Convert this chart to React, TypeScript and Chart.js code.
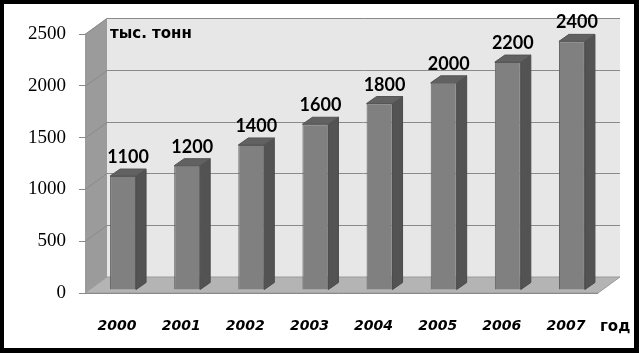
import React, { useEffect, useRef } from 'react';
import { Chart, registerables } from 'chart.js';

Chart.register(...registerables);

const years = ['2000', '2001', '2002', '2003', '2004', '2005', '2006', '2007'];
const values = [1100, 1200, 1400, 1600, 1800, 2000, 2200, 2400];
const yTicks = [0, 500, 1000, 1500, 2000, 2500];
const unitLabel = 'тыс. тонн';
const axisLabel = 'год';

const WALL_DX = 22;
const WALL_DY = -16;
const BAR_SHIFT_X = 6;
const BAR_SHIFT_Y = -3;
const BAR_DX = 10;
const BAR_DY = -7;

function poly(ctx: CanvasRenderingContext2D, pts: number[][], fill?: string, stroke?: string) {
  ctx.beginPath();
  ctx.moveTo(pts[0][0], pts[0][1]);
  for (let i = 1; i < pts.length; i++) ctx.lineTo(pts[i][0], pts[i][1]);
  ctx.closePath();
  if (fill) {
    ctx.fillStyle = fill;
    ctx.fill();
  }
  if (stroke) {
    ctx.strokeStyle = stroke;
    ctx.lineWidth = 1;
    ctx.stroke();
  }
}

const threeD = {
  id: 'threeD',
  beforeDraw(chart: any) {
    const { ctx, chartArea: a } = chart;
    const y = chart.scales.y;
    ctx.save();
    ctx.fillStyle = '#000';
    ctx.fillRect(0, 0, chart.width, chart.height);
    ctx.fillStyle = '#fff';
    ctx.fillRect(4, 4, 630, 344);
    // back wall
    ctx.fillStyle = '#e7e7e7';
    ctx.fillRect(a.left + WALL_DX, a.top + WALL_DY, a.right - a.left, a.bottom - a.top);
    // left side wall
    poly(ctx, [
      [a.left, a.top],
      [a.left + WALL_DX, a.top + WALL_DY],
      [a.left + WALL_DX, a.bottom + WALL_DY],
      [a.left, a.bottom],
    ], '#9b9b9b');
    // grid lines
    ctx.strokeStyle = '#8a8a8a';
    ctx.lineWidth = 1;
    for (const v of yTicks) {
      if (v === 0) continue;
      const py = Math.round(y.getPixelForValue(v)) + 0.5;
      ctx.beginPath();
      ctx.moveTo(a.left, py);
      ctx.lineTo(a.left + WALL_DX, py + WALL_DY);
      ctx.lineTo(a.right + WALL_DX, py + WALL_DY);
      ctx.stroke();
    }
    // floor
    poly(ctx, [
      [a.left, a.bottom],
      [a.right, a.bottom],
      [a.right + WALL_DX, a.bottom + WALL_DY],
      [a.left + WALL_DX, a.bottom + WALL_DY],
    ], '#b4b4b4', '#9a9a9a');
    ctx.beginPath();
    ctx.moveTo(a.left - 6, Math.round(a.bottom) + 0.5);
    ctx.lineTo(a.right, Math.round(a.bottom) + 0.5);
    ctx.strokeStyle = '#8a8a8a';
    ctx.stroke();
    ctx.restore();
  },
  beforeDatasetsDraw(chart: any) {
    chart.ctx.save();
    chart.ctx.translate(BAR_SHIFT_X, BAR_SHIFT_Y);
  },
  afterDatasetsDraw(chart: any) {
    const ctx = chart.ctx;
    const meta = chart.getDatasetMeta(0);
    const tops: any[] = [];
    meta.data.forEach((bar: any) => {
      const p = bar.getProps(['x', 'y', 'base', 'width'], true);
      const l = p.x - p.width / 2;
      const r = p.x + p.width / 2;
      // side face
      poly(ctx, [
        [r, p.y],
        [r + BAR_DX, p.y + BAR_DY],
        [r + BAR_DX, p.base + BAR_DY],
        [r, p.base],
      ], '#535353', '#4a4a4a');
      // top face
      poly(ctx, [
        [l, p.y],
        [l + BAR_DX, p.y + BAR_DY],
        [r + BAR_DX, p.y + BAR_DY],
        [r, p.y],
      ], '#616161', '#555555');
      tops.push(p);
    });
    ctx.restore();
    ctx.save();
    ctx.fillStyle = '#000';
    ctx.font = 'bold 18px Lato';
    ctx.textAlign = 'center';
    ctx.textBaseline = 'alphabetic';
    tops.forEach((p, i) => {
      ctx.fillText(String(values[i]), p.x + BAR_SHIFT_X + BAR_DX / 2, p.y + BAR_SHIFT_Y - 13);
    });
    ctx.restore();
  },
  afterDraw(chart: any) {
    const ctx = chart.ctx;
    ctx.save();
    ctx.fillStyle = '#000';
    ctx.font = 'bold 15px "DejaVu Sans"';
    ctx.textAlign = 'left';
    ctx.textBaseline = 'alphabetic';
    ctx.fillText(unitLabel, 110, 38);
    ctx.fillText(axisLabel, 600, 331);
    ctx.restore();
  },
};

export default function App() {
  const ref = useRef<HTMLCanvasElement | null>(null);
  useEffect(() => {
    document.body.style.margin = '0';
    const canvas = ref.current;
    if (!canvas) return;
    const chart = new Chart(canvas, {
      type: 'bar',
      data: {
        labels: years,
        datasets: [
          {
            data: values,
            backgroundColor: '#808080',
            borderColor: '#5e5e5e',
            borderWidth: 1,
            categoryPercentage: 1,
            barPercentage: 0.405,
            clip: false as any,
          },
        ],
      },
      options: {
        responsive: false,
        animation: false,
        devicePixelRatio: 1,
        layout: { padding: { left: 0, top: 34, right: 41, bottom: 0 } },
        plugins: {
          legend: { display: false },
          tooltip: { enabled: false },
          title: { display: false },
        },
        scales: {
          x: {
            grid: { display: false, drawTicks: false },
            border: { display: false },
            ticks: {
              color: '#000',
              maxRotation: 0,
              autoSkip: false,
              padding: 25,
              font: { family: '"DejaVu Sans"', size: 14, style: 'italic', weight: 'bold' },
            },
            afterFit(scale: any) {
              scale.height = 60;
            },
          },
          y: {
            min: 0,
            max: 2500,
            grid: {
              display: true,
              drawOnChartArea: false,
              drawTicks: true,
              tickLength: 6,
              color: '#8a8a8a',
            },
            border: { display: false },
            ticks: {
              stepSize: 500,
              color: '#000',
              padding: 13,
              font: { family: '"Liberation Serif"', size: 19 },
              callback: (v: any) => String(v),
            },
            afterFit(scale: any) {
              scale.width = 85;
            },
          },
        },
      },
      plugins: [threeD],
    });
    return () => chart.destroy();
  }, []);
  return (
    <div style={{ position: 'fixed', left: 0, top: 0, width: 639, height: 353 }}>
      <canvas ref={ref} width={639} height={353} style={{ display: 'block' }} />
    </div>
  );
}
